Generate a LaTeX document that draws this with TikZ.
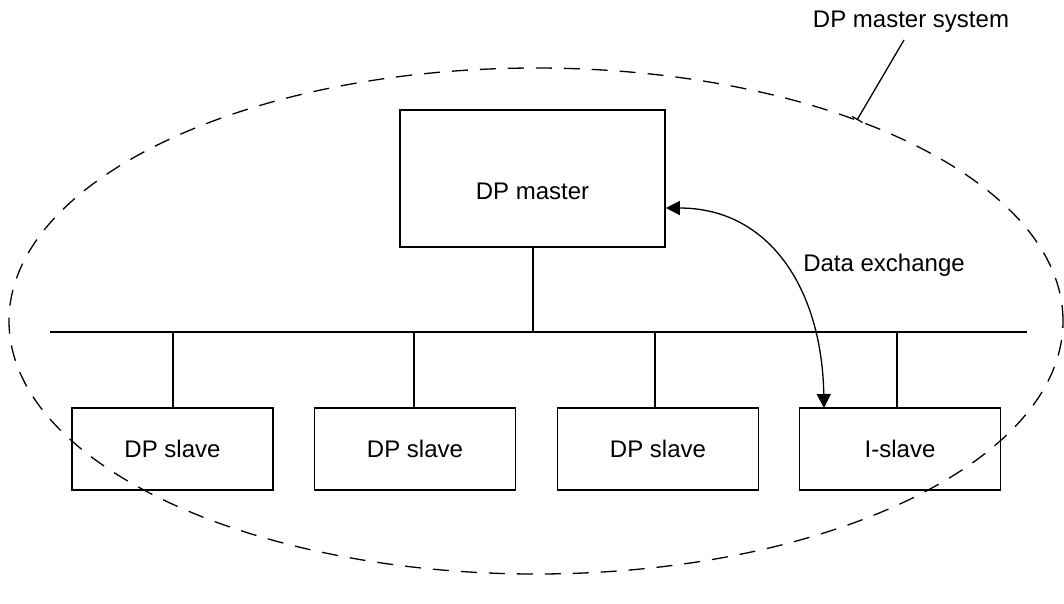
\documentclass[tikz,border=0pt]{standalone}
\usepackage{fontspec}
\setmainfont{Liberation Sans}
\usetikzlibrary{arrows.meta}
\begin{document}
\begin{tikzpicture}[x=1pt,y=-1pt,
  box/.style={draw,line width=1.6pt,minimum width=#1,minimum height=82pt,inner sep=0pt,font=\fontsize{24}{28}\selectfont},
  box/.default=201pt,
  wire/.style={line width=1.6pt},
  lbl/.style={font=\fontsize{24}{28}\selectfont,inner sep=0pt}]
\useasboundingbox (0,0) rectangle (1064,603);
\draw[line width=1.3pt,dash pattern=on 16pt off 12pt] (536,321) ellipse [x radius=527pt, y radius=253pt];
\node[box=265pt,minimum height=137pt] (master) at (532.5,178.5) {};
\node[lbl] (mtext) at (532.5,191) {DP master};
\coordinate (busL) at (50,332);
\coordinate (busR) at (1027,332);
\draw[wire] (busL) -- (busR);
\node[box] (s1) at (172.5,449) {DP slave};
\node[box] (s2) at (415,449) {DP slave};
\node[box] (s3) at (658,449) {DP slave};
\node[box] (s4) at (900,449) {I-slave};
\draw[wire] (533,248) -- (533,332);
\foreach \n/\x in {s1/173,s2/414,s3/655,s4/897}{
  \draw[wire] (\x,332) -- (\n.north -| {(\x,0)});
}
\coordinate (ms) at (master.east |- {(0,208)});
\coordinate (ie) at (824,408);
\draw[line width=1.3pt,{Triangle[length=14pt,width=14pt]}-{Triangle[length=14pt,width=14pt]}] (ms) .. controls (770,208) and (822,290) .. (ie);
\node[lbl] (dx) at (884,265) {Data exchange};
\node[lbl] (sys) at (911,22) {DP master system};
\coordinate (tick) at (857,120);
\draw[line width=1.3pt,-{Bar[width=12pt]}] (904,40) -- (tick);
\end{tikzpicture}
\end{document}
